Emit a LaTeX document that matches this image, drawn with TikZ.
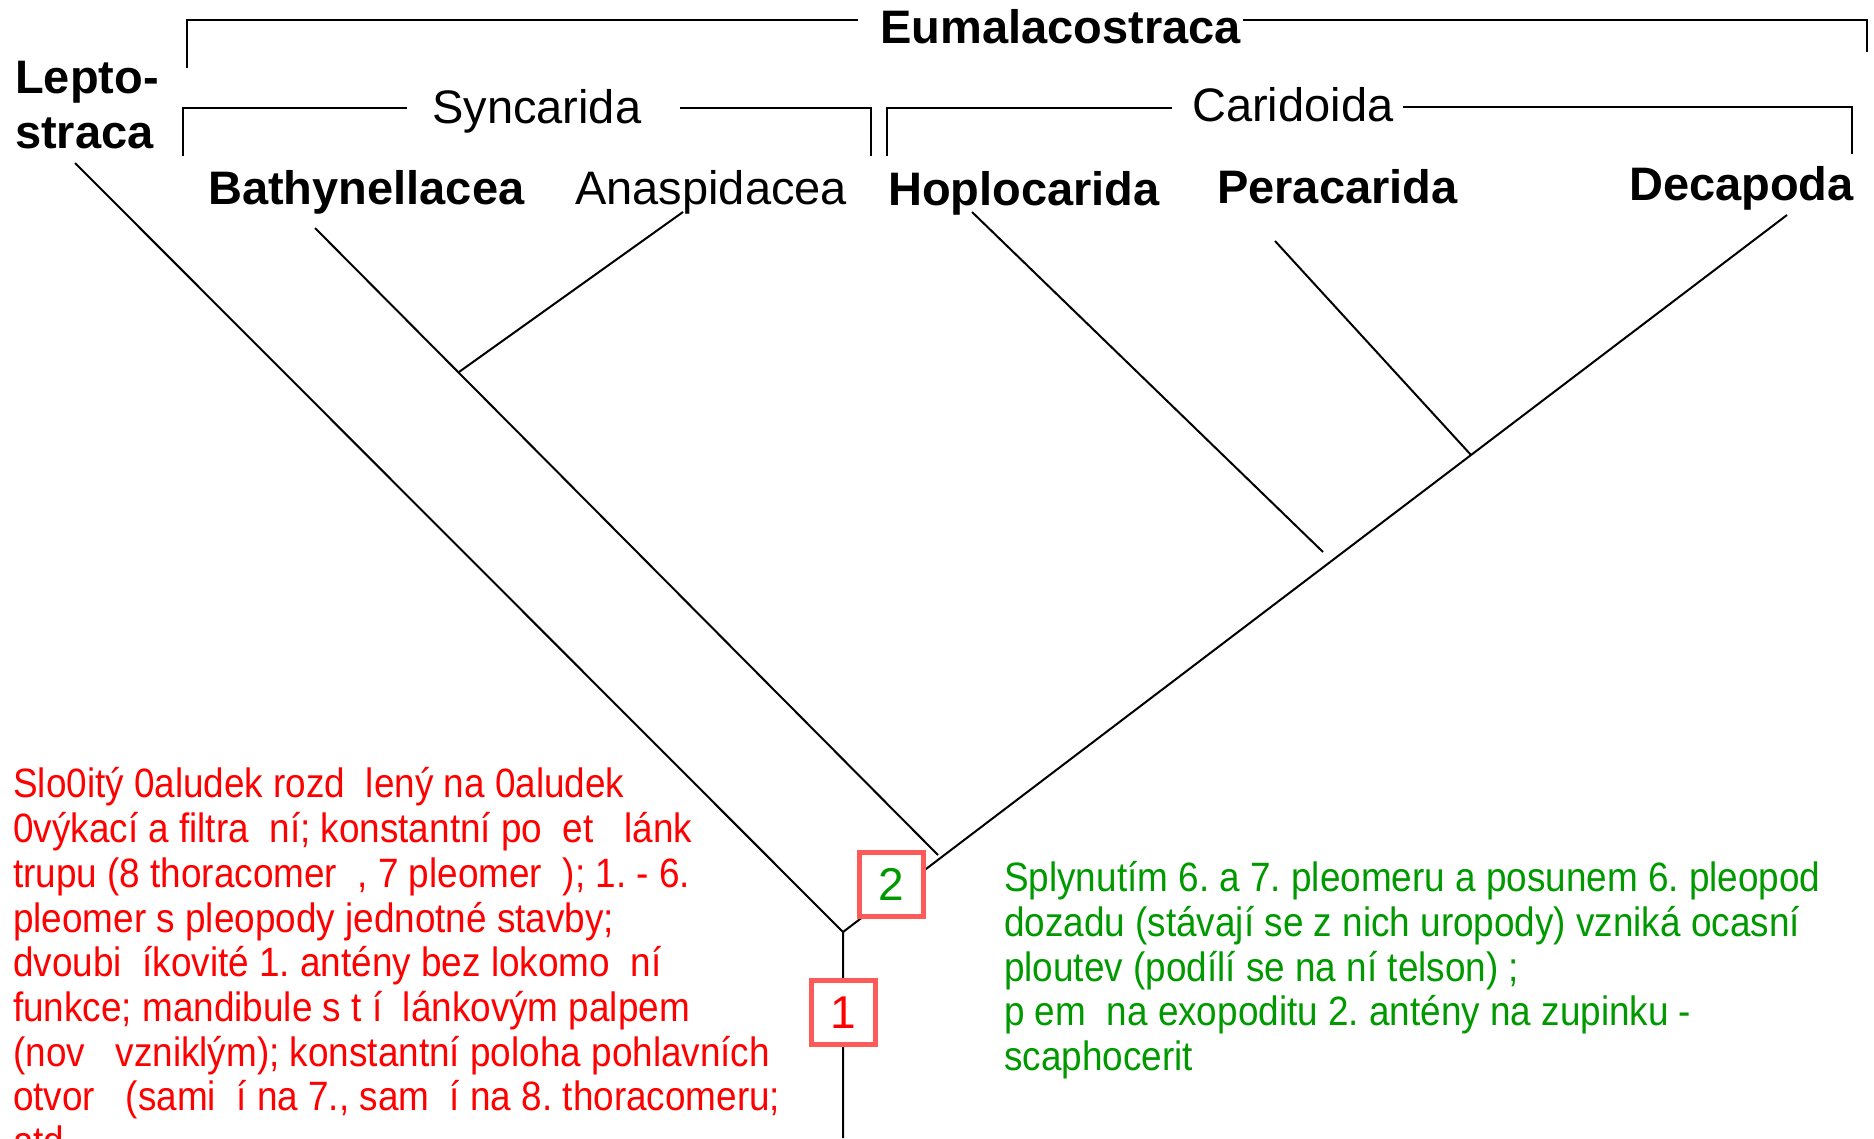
\documentclass[tikz,border=0pt]{standalone}
\usepackage{fontspec}
\setmainfont{Liberation Sans}
\newfontfamily\notefont[FakeStretch=0.9]{Liberation Sans}
\definecolor{notered}{RGB}{255,0,0}
\definecolor{notegreen}{RGB}{0,153,0}
\definecolor{boxred}{RGB}{255,90,90}
\frenchspacing

\begin{document}
\begin{tikzpicture}[x=1pt,y=-1pt,
  taxon/.style={inner sep=0pt,anchor=base west,font=\fontsize{47}{56}\selectfont\bfseries},
  group/.style={inner sep=0pt,anchor=base west,font=\fontsize{47}{56}\selectfont},
  bracket/.style={line width=2.6pt},
  branch/.style={line width=2pt},
  noteR/.style={inner sep=0pt,anchor=base west,text=notered,font=\notefont\fontsize{41}{45}\selectfont},
  noteG/.style={inner sep=0pt,anchor=base west,text=notegreen,font=\notefont\fontsize{41}{45}\selectfont},
  charbox/.style={draw=boxred,line width=5pt,fill=white,minimum width=64pt,minimum height=64pt,inner sep=0pt,font=\fontsize{46}{50}\selectfont}
]
\useasboundingbox (0,0) rectangle (1874,1138);

% taxon labels
\node[taxon] (lep1) at (15,93)  {Lepto-};
\node[taxon] (lep2) at (15,148) {straca};
\node[taxon] (eum)  at (880,43) {Eumalacostraca};
\node[group] (syn)  at (432,123) {Syncarida};
\node[group] (car)  at (1192,121) {Caridoida};
\node[taxon] (bat)  at (208,204) {Bathynellacea};
\node[group] (ana)  at (575,204) {Anaspidacea};
\node[taxon] (hop)  at (888,205) {Hoplocarida};
\node[taxon] (per)  at (1217,203) {Peracarida};
\node[taxon] (dec)  at (1629,200) {Decapoda};

% group brackets
\draw[bracket] (187,68) -- (187,20) -- (858,20);
\draw[bracket] (1243,20) -- (1867,20) -- (1867,52);
\draw[bracket] (183,156) -- (183,108) -- (407,108);
\draw[bracket] (680,108) -- (871,108) -- (871,156);
\draw[bracket] (887,156) -- (887,108) -- (1172,108);
\draw[line width=2pt] (1403,107) -- (1852,107) -- (1852,154);

% tree
\coordinate (tipL) at (75,163);
\coordinate (tipB) at (315,228);
\coordinate (tipA) at (683,212);
\coordinate (tipH) at (972,212);
\coordinate (tipP) at (1275,241);
\coordinate (tipD) at (1787,215);
\coordinate (root) at (843,932);
\coordinate (base) at (843,1138);
\coordinate (jA)   at (459,372);
\coordinate (endB) at (938,855);
\coordinate (endH) at (1323,552);
\coordinate (endP) at (1471,455);

\draw[branch] (tipL) -- (root) -- (base);
\draw[branch] (root) -- (tipD);
\draw[branch] (tipB) -- (endB);
\draw[branch] (tipA) -- (jA);
\draw[branch] (tipH) -- (endH);
\draw[branch] (tipP) -- (endP);

% character boxes
\node[charbox,text=notegreen] (c2) at (891.5,884.5) {2};
\node[charbox,text=notered]   (c1) at (843,1012.5) {1};

% character descriptions
\node[noteR] (r1) at (13,797)  {Slo0itý 0aludek rozd~~lený na 0aludek};
\node[noteR] (r2) at (13,842)  {0výkací a filtra~~ní; konstantní po~~et~~~lánk};
\node[noteR] (r3) at (13,887)  {trupu (8 thoracomer~~, 7 pleomer~~); 1. - 6.};
\node[noteR] (r4) at (13,932)  {pleomer s pleopody jednotné stavby;};
\node[noteR] (r5) at (13,976)  {dvoubi~~íkovité 1. antény bez lokomo~~ní};
\node[noteR] (r6) at (13,1021) {funkce; mandibule s t~í~~lánkovým palpem};
\node[noteR] (r7) at (13,1066) {(nov~~~vzniklým); konstantní poloha pohlavních};
\node[noteR] (r8) at (13,1110) {otvor~~~(sami~~í na 7., sam~~í na 8. thoracomeru;};
\node[noteR] (r9) at (13,1155) {atd.};

\node[noteG] (g1) at (1004,891)  {Splynutím 6. a 7. pleomeru a posunem 6. pleopod};
\node[noteG] (g2) at (1004,936)  {dozadu (stávají se z nich uropody) vzniká ocasní};
\node[noteG] (g3) at (1004,981)  {ploutev (podílí se na ní telson) ;};
\node[noteG] (g4) at (1004,1025) {p~em~~na exopoditu 2. antény na zupinku -};
\node[noteG] (g5) at (1004,1070) {scaphocerit};
\end{tikzpicture}
\end{document}
